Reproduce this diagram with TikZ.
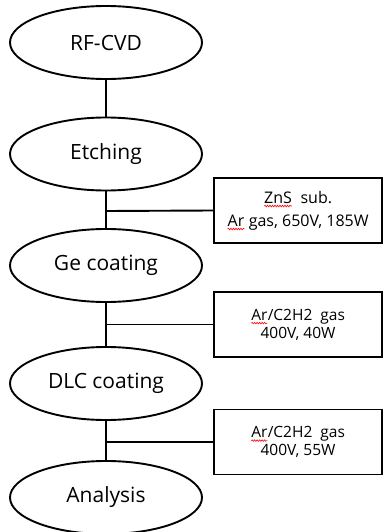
\documentclass[tikz,border=0pt]{standalone}
\usepackage{fontspec}
\setmainfont{Open Sans}
\usetikzlibrary{shapes.geometric,decorations.pathmorphing}
\newcommand\redwave[1]{\tikz[baseline=(w.base)]{\node[draw=none, fill=none, shape=rectangle, inner sep=0pt, outer sep=0pt, minimum width=0pt, minimum height=0pt, align=left] (w) {#1}; \draw[red, line width=0.6pt, decorate, decoration={snake, amplitude=0.8pt, segment length=2.5pt}] ([yshift=-3pt]w.base west) -- ([yshift=-3pt]w.base east);}}
\tikzset{
  stage/.style={draw, line width=1.9pt, ellipse, minimum width=192pt, minimum height=73pt, inner sep=0pt, font=\fontsize{21}{24}\selectfont},
  parbox/.style={draw, line width=1.9pt, rectangle, minimum width=168pt, minimum height=65pt, inner sep=0pt, align=center},
  link/.style={line width=1.9pt}
}
\begin{document}
\begin{tikzpicture}[x=1pt,y=-1pt]
\useasboundingbox (0,0) rectangle (387,532);
\node[stage] (rf) at (106,42.5) {RF-CVD};
\node[stage] (etch) at (106,154) {Etching};
\node[stage] (ge) at (106,265.5) {Ge coating};
\node[stage] (dlc) at (106,383.5) {DLC coating};
\node[stage] (ana) at (106,497.5) {Analysis};
\node[parbox, font=\fontsize{16}{23}\selectfont] (b1) at (298,210.5) {\redwave{ZnS}~ sub.\\\redwave{Ar} gas, 650V, 185W};
\node[parbox, font=\fontsize{15.5}{18}\selectfont] (b2) at (298,324.5) {\redwave{Ar}/C2H2~ gas\\400V, 40W};
\node[parbox, font=\fontsize{15.5}{18}\selectfont] (b3) at (298,442) {\redwave{Ar}/C2H2~ gas\\400V, 55W};
\coordinate (j1) at (106,211);
\coordinate (j2) at (106,324.5);
\coordinate (j3) at (106,442);
\draw[link] (rf) -- (etch);
\draw[link] (etch) -- (ge);
\draw[link] (ge) -- (dlc);
\draw[link] (dlc) -- (ana);
\draw[link] (j1) -- (b1.west);
\draw[link] (j2) -- (b2.west);
\draw[link] (j3) -- (b3.west);
\end{tikzpicture}
\end{document}
